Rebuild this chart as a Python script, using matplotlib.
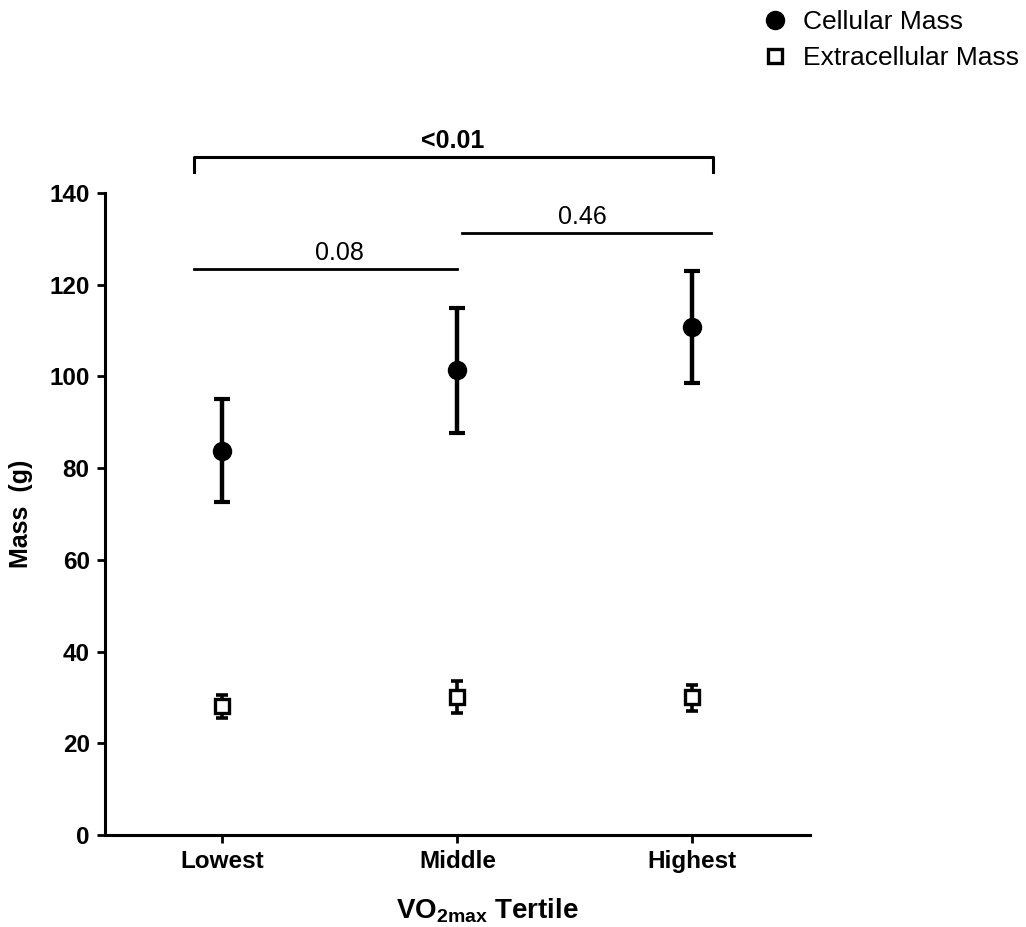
import matplotlib
matplotlib.use("Agg")
from matplotlib import pyplot as plt

plt.rcParams['font.family'] = ['Liberation Sans', 'DejaVu Sans']
plt.rcParams['mathtext.fontset'] = 'custom'
plt.rcParams['mathtext.rm'] = 'Liberation Sans'
plt.rcParams['mathtext.bf'] = 'Liberation Sans:bold'

tertiles = ['Lowest', 'Middle', 'Highest']
cell_mass = [83.7, 101.3, 110.7]
cell_lo = [72.6, 87.7, 98.6]
cell_hi = [95.0, 115.0, 123.0]
extra_mass = [28.2, 30.1, 30.0]
extra_lo = [25.6, 26.6, 27.0]
extra_hi = [30.6, 33.6, 32.8]
p_values = ['0.08', '0.46', '<0.01']

x = list(range(len(tertiles)))

fig = plt.figure(figsize=(10.26, 9.27), dpi=100)
ax = fig.add_axes([0.1023, 0.0993, 0.687, 0.6925])

cell_err = [[m - l for m, l in zip(cell_mass, cell_lo)],
            [h - m for m, h in zip(cell_mass, cell_hi)]]
extra_err = [[m - l for m, l in zip(extra_mass, extra_lo)],
             [h - m for m, h in zip(extra_mass, extra_hi)]]

ax.errorbar(x, cell_mass, yerr=cell_err, fmt='none', ecolor='black',
            elinewidth=3.2, capsize=6, capthick=3, zorder=2)
ax.errorbar(x, extra_mass, yerr=extra_err, fmt='none', ecolor='black',
            elinewidth=2.6, capsize=4.5, capthick=2.6, zorder=2)
ax.plot(x, cell_mass, 'o', color='black', markersize=13, linestyle='none',
        label='Cellular Mass', zorder=3)
ax.plot(x, extra_mass, 's', markerfacecolor='white', markeredgecolor='black',
        markeredgewidth=2.4, markersize=10, linestyle='none',
        label='Extracellular Mass', zorder=3)

ax.set_xlim(-0.5, 2.5)
ax.set_ylim(0, 140)
ax.set_yticks(range(0, 141, 20))
ax.set_xticks(x)
ax.set_xticklabels(tertiles)

for s in ['top', 'right']:
    ax.spines[s].set_visible(False)
for s in ['left', 'bottom']:
    ax.spines[s].set_linewidth(2.2)
ax.tick_params(axis='both', length=6, width=2, labelsize=17.5, pad=5)
for lbl in ax.get_xticklabels() + ax.get_yticklabels():
    lbl.set_fontweight('bold')

ax.set_ylabel('Mass  (g)', fontsize=18, fontweight='bold', labelpad=12)
ax.set_xlabel('VO$_{\\mathbf{2max}}$ Tertile', fontsize=20, fontweight='bold')
ax.xaxis.set_label_coords(0.543, -0.096)

# significance lines between tertiles
ax.plot([-0.12, 1.0], [123.4, 123.4], color='black', lw=2, clip_on=False)
ax.text(0.5, 124.2, p_values[0], ha='center', va='bottom', fontsize=18)
ax.plot([1.02, 2.08], [131.3, 131.3], color='black', lw=2, clip_on=False)
ax.text(1.53, 132.1, p_values[1], ha='center', va='bottom', fontsize=18)
ax.plot([-0.12, -0.12, 2.09, 2.09], [144.6, 147.9, 147.9, 144.6],
        color='black', lw=2.2, clip_on=False)
ax.text(0.98, 148.7, p_values[2], ha='center', va='bottom', fontsize=18,
        fontweight='bold')

fig.legend(loc='upper left', bbox_to_anchor=(0.732, 1.0005), borderaxespad=0,
           frameon=False, fontsize=19, handlelength=1.0, handletextpad=0.56,
           labelspacing=0.47)

fig.savefig('out.png', dpi=100)
